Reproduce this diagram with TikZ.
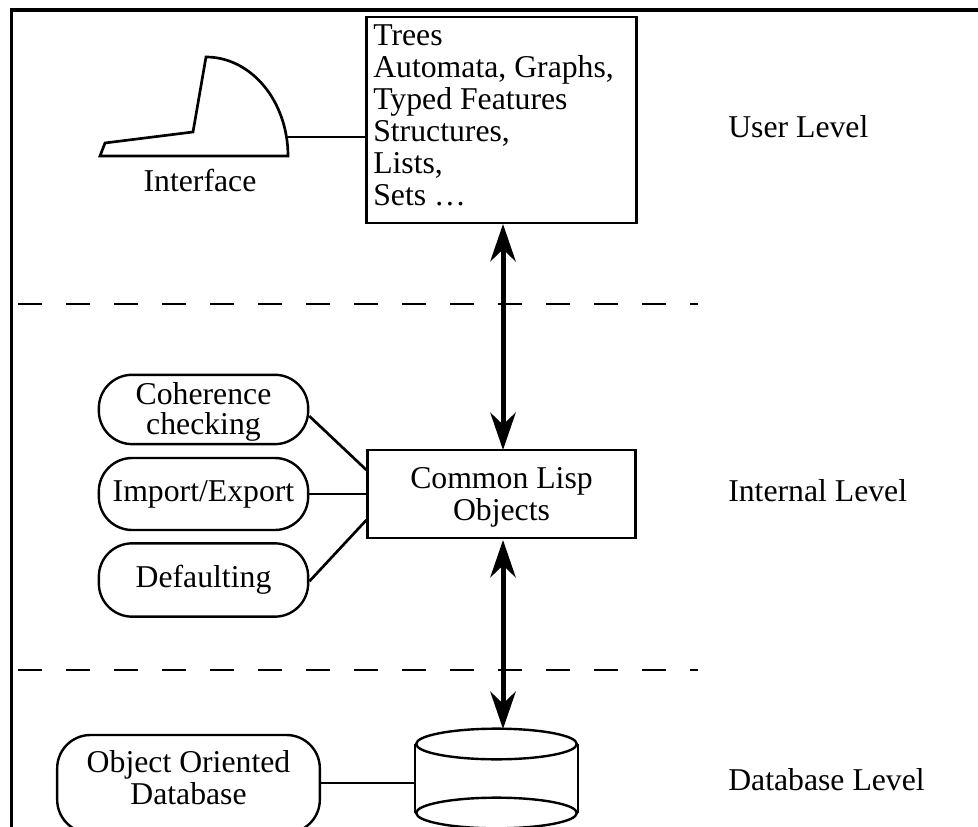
\documentclass[tikz,border=0pt]{standalone}
\usepackage{fontspec}
\setmainfont{Liberation Serif}
\usetikzlibrary{arrows.meta,positioning,shapes.geometric}
\tikzset{%
	block/.style    = {draw, rectangle, line width=1.6pt, inner sep=0pt, align=center},
	pill/.style     = {draw, rectangle, rounded corners=25pt, line width=1.8pt, inner sep=0pt, align=center},
	drum/.style     = {draw, ellipse, line width=1.8pt, inner sep=0pt, minimum width=120.5pt, minimum height=23pt},
	level/.style    = {anchor=base west, inner sep=0pt},
	label/.style    = {inner sep=0pt, align=center},
	link/.style     = {line width=2pt},
	twoway/.style   = {line width=3.75pt, {Stealth[length=28pt,width=19pt,inset=9pt]}-{Stealth[length=28pt,width=19pt,inset=9pt]}},
	divider/.style  = {line width=1.8pt, dash pattern=on 18pt off 18pt},
	waypoint/.style = {coordinate},
}
\begin{document}
\begin{tikzpicture}[x=0.75pt,y=-0.75pt,font=\fontsize{23.8}{24}\selectfont]
	\useasboundingbox (0,0) rectangle (978,827);
	\coordinate (framea) at (11.5,827);
	\coordinate (frameb) at (11.5,10);
	\coordinate (framec) at (978,10);
	\draw[line width=2.4pt] (framea) -- (frameb) -- (framec);

	% user level
	\node [block,minimum width=202.5pt,minimum height=154.5pt] (types) at (501.5,120) {};
	\node [label,anchor=north west,align=left] (typestext) at (373,24) {Trees\\Automata, Graphs,\\Typed Features\\Structures,\\Lists,\\Sets \dots};
	\coordinate (ifport) at (288,137);
	\draw[link,line join=miter] (100,156) -- (105,143) -- (193,132) -- (206,57) arc[start angle=90,end angle=0,x radius=61.5pt,y radius=74.25pt] -- cycle;
	\node [label] (iface) at (200,180) {Interface};
	\node [level] (user) at (728,138) {User Level};

	% internal level
	\node [block,minimum width=201pt,minimum height=66pt] (lisp) [below of=types,node distance=280.5pt] {\rule{0pt}{21pt}Common Lisp\\Objects};
	\node [pill,minimum width=157pt,minimum height=54pt] (import) [left of=lisp,node distance=223.5pt] {Import/Export};
	\node [pill,minimum width=157pt,minimum height=52pt] (coherence) [above of=import,node distance=63.4pt] {\rule{0pt}{20pt}Coherence\\[-1.5pt]checking};
	\node [pill,minimum width=157pt,minimum height=55pt] (default) [below of=import,node distance=64.5pt] {Defaulting};
	\node [level] (internal) at (728,501) {Internal Level};

	% database level
	\node [pill,minimum width=197pt,minimum height=73.5pt] (oodb) at (188.5,784) {};
	\node [label] (oodbtext) at (188.5,778) {Object Oriented\\Database};
	\node [drum] (dbtop) at (496.5,744) {};
	\node [drum] (dbbase) at (496.5,813) {};
	\node [level] (dblevel) at (728,790) {Database Level};
	\coordinate (dbport) at (416,783);

	\draw[link] (ifport) -- (types.west |- ifport);
	\draw[link] ([yshift=-5pt]coherence.east) -- ([yshift=18pt]lisp.west);
	\draw[link] (import) -- (lisp);
	\draw[link] ([yshift=-1pt]default.east) -- ([yshift=-19.5pt]lisp.west);
	\draw[link] (oodb.east |- dbport) -- (dbport);
	\draw[link] (dbtop.west) -- (dbbase.west);
	\draw[link] (dbtop.east) -- (dbbase.east);

	\node [waypoint] (lefta) at (18,304) {};
	\node [waypoint] (righta) at (698,304) {};
	\node [waypoint] (leftb) at (18,670) {};
	\node [waypoint] (rightb) at (698,670) {};
	\draw[divider] (lefta) -- (righta);
	\draw[divider] (leftb) -- (rightb);
	\draw[twoway] (503,224) -- (503,450);
	\draw[twoway] (503,540) -- (503,729);
\end{tikzpicture}
\end{document}
